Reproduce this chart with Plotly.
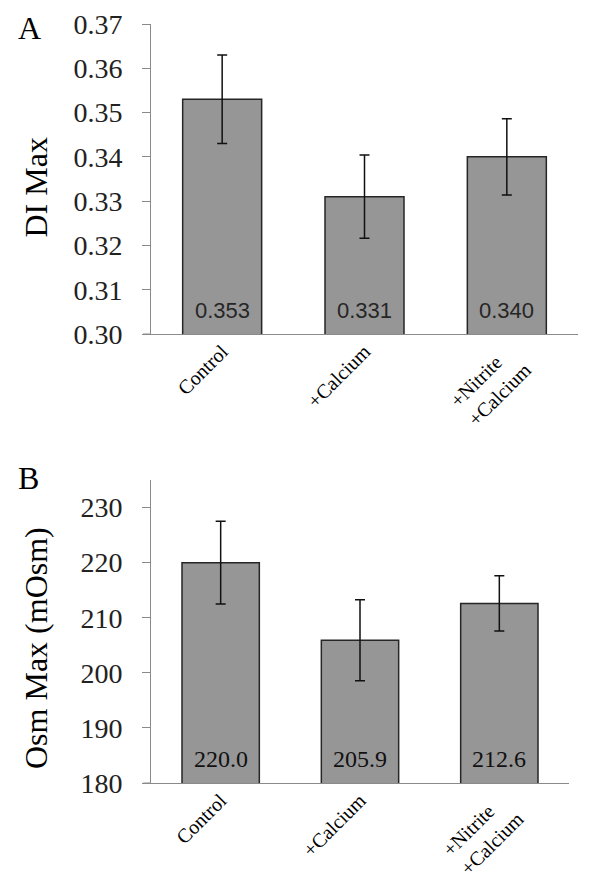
import plotly.graph_objects as go

# ---- data ----
categories = ["Control", "+Calcium", "+Nitrite&nbsp;&nbsp;&nbsp;<br>+Calcium"]
di_max = [0.353, 0.331, 0.340]
di_err = [0.0100, 0.0094, 0.0086]
di_labels = ["0.353", "0.331", "0.340"]
osm_max = [220.0, 205.9, 212.6]
osm_err = [7.5, 7.35, 5.0]
osm_labels = ["220.0", "205.9", "212.6"]
di_ticks = [0.30, 0.31, 0.32, 0.33, 0.34, 0.35, 0.36, 0.37]
di_ticktext = ["0.30", "0.31", "0.32", "0.33", "0.34", "0.35", "0.36", "0.37"]
osm_ticks = [180, 190, 200, 210, 220, 230]

# page body has an 8px margin; size the figure to fill the rest of the window
OFF = 8
W, H = 594 - OFF, 882 - OFF
SERIF = "Liberation Serif, Times New Roman, serif"
BAR_FILL = "#969696"
BAR_LINE = "#262626"
AXIS_COL = "#8a8a8a"

def px_x(x):
    return (x - OFF) / W

def px_y(y):
    return 1 - (y - OFF) / H

fig = go.Figure()

fig.add_trace(go.Bar(
    x=categories, y=di_max, xaxis="x", yaxis="y", width=0.555,
    marker=dict(color=BAR_FILL, line=dict(color=BAR_LINE, width=1.5)),
    error_y=dict(type="data", array=di_err, color="#111111", thickness=1.5, width=5),
    showlegend=False, hoverinfo="skip",
))
fig.add_trace(go.Bar(
    x=categories, y=osm_max, xaxis="x2", yaxis="y2", width=0.555,
    marker=dict(color=BAR_FILL, line=dict(color=BAR_LINE, width=1.5)),
    error_y=dict(type="data", array=osm_err, color="#111111", thickness=1.5, width=5),
    showlegend=False, hoverinfo="skip",
))

axis_common = dict(showgrid=False, zeroline=False, showline=True,
                   linecolor=AXIS_COL, linewidth=1, automargin=False)

fig.update_layout(
    template="none",
    width=W, height=H,
    margin=dict(l=0, r=0, t=0, b=0, pad=0),
    paper_bgcolor="white", plot_bgcolor="white",
    xaxis=dict(domain=[px_x(151), px_x(578)], anchor="y", **axis_common,
               ticks="", tickangle=-45, ticklabelstandoff=-3,
               tickfont=dict(family=SERIF, size=20, color="black")),
    yaxis=dict(domain=[px_y(334), px_y(24)], anchor="x", **axis_common,
               range=[0.30, 0.37], tickvals=di_ticks, ticktext=di_ticktext,
               ticks="outside", ticklen=8, tickcolor=AXIS_COL, ticklabelstandoff=14,
               tickfont=dict(family=SERIF, size=28, color="#222222")),
    xaxis2=dict(domain=[px_x(151), px_x(569)], anchor="y2", **axis_common,
                ticks="", tickangle=-45, ticklabelstandoff=-3,
                tickfont=dict(family=SERIF, size=20, color="black")),
    yaxis2=dict(domain=[px_y(783), px_y(480)], anchor="x2", **axis_common,
                range=[180, 235], tickvals=osm_ticks,
                ticks="outside", ticklen=8, tickcolor=AXIS_COL, ticklabelstandoff=14,
                tickfont=dict(family=SERIF, size=28, color="#222222")),
)

# x-axis line stub extending left of the y-axis
for xr, yr in (("x domain", "y domain"), ("x2 domain", "y2 domain")):
    fig.add_shape(type="line", xref=xr, yref=yr, x0=-0.0187, x1=0, y0=0, y1=0,
                  line=dict(color=AXIS_COL, width=1))

annotations = []
# value labels inside bars
for c, t in zip(categories, di_labels):
    annotations.append(dict(x=c, y=0.30, xref="x", yref="y", text=t, showarrow=False,
                            yanchor="bottom", yshift=9,
                            font=dict(family="Liberation Sans, Arial, sans-serif", size=22,
                                      color="#262626")))
for c, t in zip(categories, osm_labels):
    annotations.append(dict(x=c, y=180, xref="x2", yref="y2", text=t, showarrow=False,
                            yanchor="bottom", yshift=9,
                            font=dict(family=SERIF, size=24, color="#111111")))
# axis titles
annotations.append(dict(x=px_x(36), y=px_y(187.5), xref="paper", yref="paper",
                        text="DI Max", textangle=-90, showarrow=False,
                        xanchor="center", yanchor="middle",
                        font=dict(family=SERIF, size=32, color="black")))
annotations.append(dict(x=px_x(36), y=px_y(648), xref="paper", yref="paper",
                        text="Osm Max (mOsm)", textangle=-90, showarrow=False,
                        xanchor="center", yanchor="middle",
                        font=dict(family=SERIF, size=32, color="black")))
# panel letters
annotations.append(dict(x=px_x(16), y=px_y(27.5), xref="paper", yref="paper",
                        text="A", showarrow=False, xanchor="left", yanchor="middle",
                        font=dict(family=SERIF, size=32, color="black")))
annotations.append(dict(x=px_x(16), y=px_y(478), xref="paper", yref="paper",
                        text="B", showarrow=False, xanchor="left", yanchor="middle",
                        font=dict(family=SERIF, size=32, color="black")))
fig.update_layout(annotations=annotations)

fig.write_html("out.html")
